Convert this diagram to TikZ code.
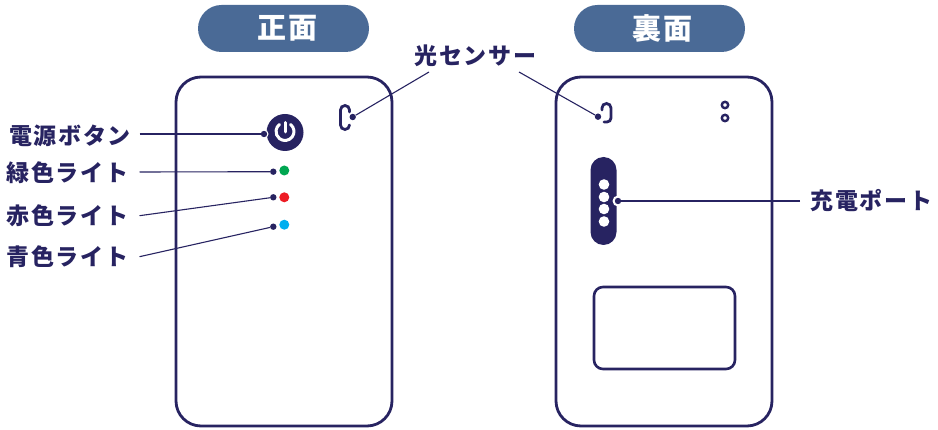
\documentclass[tikz,border=0pt]{standalone}
\usepackage{fontspec}
\newfontfamily\cjk[LetterSpace=7]{Noto Sans CJK JP}
\newfontfamily\cjkhead[LetterSpace=5]{Noto Sans CJK JP}
\definecolor{navy}{HTML}{272361}
\definecolor{pill}{HTML}{4A6A96}
\definecolor{ledg}{HTML}{00A651}
\definecolor{ledr}{HTML}{ED1C24}
\definecolor{ledb}{HTML}{00AEEF}
\tikzset{
  body/.style={draw=navy,line width=2.8pt,rounded corners=25pt,fill=none,minimum width=216pt,minimum height=349pt,inner sep=0pt},
  wire/.style={draw=navy,line width=1.1pt},
  endpoint/.style={circle,fill=navy,inner sep=0pt,minimum size=6.4pt},
  led/.style={circle,inner sep=0pt,minimum size=10pt},
  lbl/.style={font=\cjk\bfseries\fontsize{23}{25}\selectfont,text=navy,inner sep=0pt,anchor=west},
  head/.style={fill=pill,rounded corners=23.5pt,minimum width=171pt,minimum height=47pt,inner sep=0pt},
  headtext/.style={font=\cjkhead\bfseries\fontsize{29}{31}\selectfont,text=white,inner sep=0pt},
  outline/.style={draw=navy,line width=2.8pt,line cap=round},
  hole/.style={circle,fill=white,inner sep=0pt,minimum size=10.6pt},
  ring/.style={circle,draw=navy,line width=2.4pt,inner sep=0pt,minimum size=6.4pt}
}
\begin{document}
\begin{tikzpicture}[x=1pt,y=-1pt]
\useasboundingbox (0,0) rectangle (938,430);
% headers
\node[head] (hf) at (283.5,28.5) {};
\node[headtext] (hft) at (287.5,28.5) {正面};
\node[head] (hb) at (659.5,28.5) {};
\node[headtext] (hbt) at (662.5,28.5) {裏面};
% bodies
\node[body] (front) at (284,251.5) {};
\node[body] (back) at (664,251.5) {};
% back details
\node[draw=navy,line width=2.6pt,rounded corners=9pt,minimum width=141pt,minimum height=82pt,inner sep=0pt] (panel) at (664.5,328) {};
\node[ring] (h1) at (725,105) {};
\node[ring] (h2) at (725,118) {};
\node[fill=navy,rounded corners=13pt,minimum width=26pt,minimum height=88pt,inner sep=0pt] (port) at (603.5,201) {};
\node[hole] (p1) at (604,184.5) {};
\node[hole] (p2) at (604,197) {};
\node[hole] (p3) at (604,209) {};
\node[hole] (p4) at (604,221.5) {};
% sensors
\draw[outline] (349.5,112) -- (349.5,110) arc[start angle=0,end angle=-180,radius=4.5] -- (340.5,125) arc[start angle=180,end angle=0,radius=4.5];
\draw[outline] (602,110) -- (602,108) arc[start angle=-180,end angle=0,radius=4.5] -- (611,118) arc[start angle=0,end angle=90,radius=4] -- (604,122);
% power button
\node[circle,fill=navy,inner sep=0pt,minimum size=37pt] (power) at (285,132.5) {};
\draw[draw=white,line width=3pt,line cap=round] (285,131.5) ++(-52:9) arc[start angle=-52,end angle=232,radius=9];
\draw[draw=white,line width=3pt,line cap=round] (285,122.5) -- (285,132);
% LEDs
\node[led,fill=ledg] (lg) at (284.3,170.5) {};
\node[led,fill=ledr] (lr) at (284.3,197.3) {};
\node[led,fill=ledb] (lb) at (284.3,224.7) {};
% endpoints
\node[circle,fill=white,inner sep=0pt,minimum size=11pt] (halo) at (618,201) {};
\node[circle,fill=white,inner sep=0pt,minimum size=9pt] (halo2) at (264,134) {};
\node[endpoint] (dp) at (264,134) {};
\node[endpoint] (dg) at (273.3,171.7) {};
\node[endpoint] (dr) at (273.3,197.3) {};
\node[endpoint] (db) at (273.3,226.7) {};
\node[endpoint] (ds1) at (352.7,117) {};
\node[endpoint] (ds2) at (598,116.7) {};
\node[endpoint] (dc) at (618,201) {};
% labels
\node[lbl] (l1) at (9,135.5) {電源ボタン};
\node[lbl] (l2) at (6.5,172.5) {緑色ライト};
\node[lbl] (l3) at (6.5,215.5) {赤色ライト};
\node[lbl] (l4) at (6.5,256.8) {青色ライト};
\node[lbl] (l5) at (414.5,55.5) {光センサー};
\node[lbl] (l6) at (810.5,201) {充電ポート};
% free ends
\coordinate (c1) at (139.5,134);
\coordinate (c2) at (139.5,172);
\coordinate (c3) at (139.5,215.7);
\coordinate (c4) at (139.5,256.7);
\coordinate (c5) at (429,72);
\coordinate (c6) at (519,72);
\coordinate (c7) at (800,201);
\draw[wire] (c1) -- (dp);
\draw[wire] (c2) -- (dg);
\draw[wire] (c3) -- (dr);
\draw[wire] (c4) -- (db);
\draw[wire] (c5) -- (ds1);
\draw[wire] (c6) -- (ds2);
\draw[wire] (c7) -- (dc);
\end{tikzpicture}
\end{document}
